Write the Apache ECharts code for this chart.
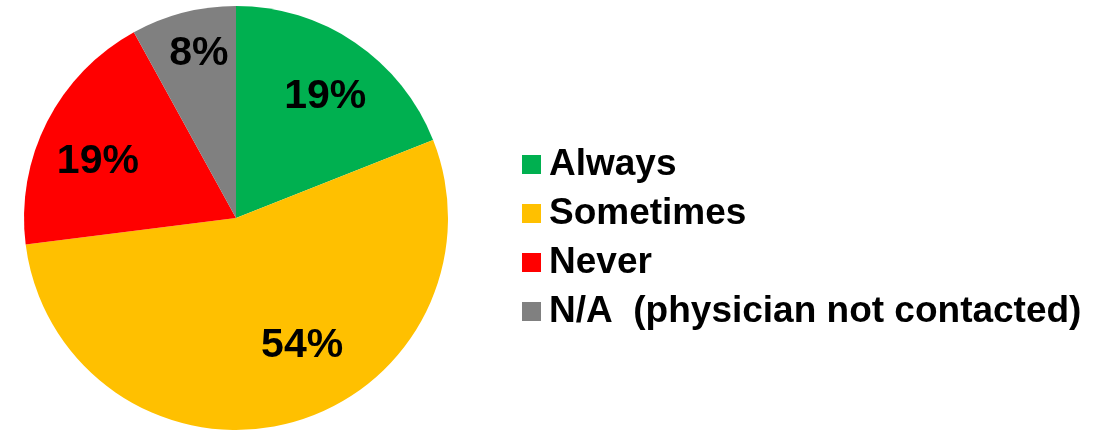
<!DOCTYPE html>
<html>
<head>
<meta charset="utf-8">
<script src="https://cdn.jsdelivr.net/npm/echarts@6/dist/echarts.min.js"></script>
<style>
  html, body { margin: 0; padding: 0; background: #ffffff; }
  #chart { width: 1110px; height: 433px; }
</style>
</head>
<body>
<div id="chart"></div>
<script>
// Answer categories and their shares (percent)
const categories = ['Always', 'Sometimes', 'Never', 'N/A  (physician not contacted)'];
const shares = [19, 54, 19, 8];
const sliceColors = ['#00B050', '#FFC000', '#FF0000', '#808080'];

// Small per-slice nudges so the percentage labels sit where they read best
const labelNudge = [[28, -31], [39, 22], [-41, -7], [-10, -59]];

const chart = echarts.init(document.getElementById('chart'), null, { renderer: 'canvas' });

const fontFamily = '"Liberation Sans", Arial, sans-serif';

chart.setOption({
  animation: false,
  backgroundColor: '#ffffff',
  color: sliceColors,
  legend: {
    orient: 'vertical',
    left: 517,
    top: 139,
    itemWidth: 19,
    itemHeight: 19,
    itemGap: 8,
    icon: 'rect',
    data: categories,
    selectedMode: false,
    textStyle: {
      fontFamily: fontFamily,
      fontWeight: 'bold',
      fontSize: 37,
      lineHeight: 41,
      color: '#000000',
      padding: [0, 0, 0, 3]
    }
  },
  series: [{
    type: 'pie',
    center: [236, 218],
    radius: [0, 212],
    startAngle: 90,
    clockwise: true,
    avoidLabelOverlap: false,
    itemStyle: { borderWidth: 0 },
    emphasis: { disabled: true },
    label: {
      show: true,
      position: 'inside',
      formatter: '{c}%',
      fontFamily: fontFamily,
      fontWeight: 'bold',
      fontSize: 41,
      color: '#000000'
    },
    labelLine: { show: false },
    labelLayout: function (params) {
      const n = labelNudge[params.dataIndex];
      return { dx: n[0], dy: n[1] };
    },
    data: categories.map((name, i) => ({ name: name, value: shares[i] }))
  }]
});
</script>
</body>
</html>
